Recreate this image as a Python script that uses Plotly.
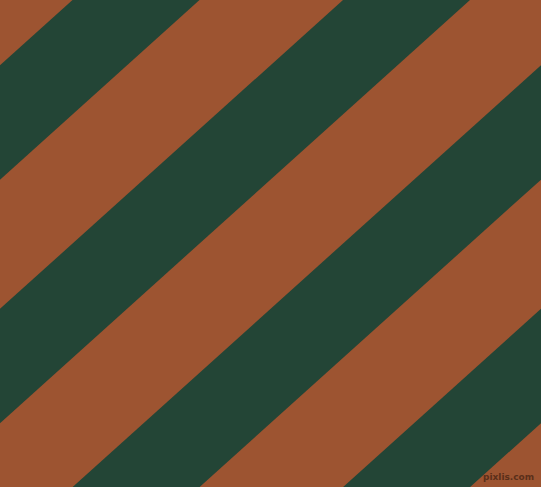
import numpy as np
import plotly.graph_objects as go

# stripe pattern
W, H = 541, 487
angle_deg = 42.0                      # stripe angle from horizontal
green_left = [72.5, 343.0, 613.5, 884.0]    # where each green band starts on the top edge
green_right = [199.5, 470.0, 740.5, 1011.0]  # where each green band ends on the top edge
orange = "#9D5431"
green = "#234536"
watermark = "pixlis.com"

slope = np.tan(np.radians(angle_deg))
shift = H / slope   # horizontal run of a stripe edge from top to bottom

fig = go.Figure()
for a, b in zip(green_left, green_right):
    fig.add_trace(go.Scatter(
        x=[a, b, b - shift, a - shift, a],
        y=[0, 0, H, H, 0],
        mode="lines", fill="toself",
        fillcolor=green, line=dict(width=0, color=green),
        hoverinfo="skip", showlegend=False))

# small site mark in the bottom right corner
fig.add_annotation(x=536, y=477, xref="x", yref="y", xanchor="right", yanchor="middle",
                   text="<b>" + watermark + "</b>", showarrow=False,
                   font=dict(family="DejaVu Sans", size=9, color="#5a2f1a"))

fig.update_xaxes(range=[0, W], visible=False, fixedrange=True)
fig.update_yaxes(range=[H, 0], visible=False, fixedrange=True)
fig.update_layout(width=W, height=H, margin=dict(l=0, r=0, t=0, b=0),
                  paper_bgcolor=orange, plot_bgcolor=orange)

fig.write_html("out.html", config={"displayModeBar": False},
               post_script="document.body.style.margin='0';")
